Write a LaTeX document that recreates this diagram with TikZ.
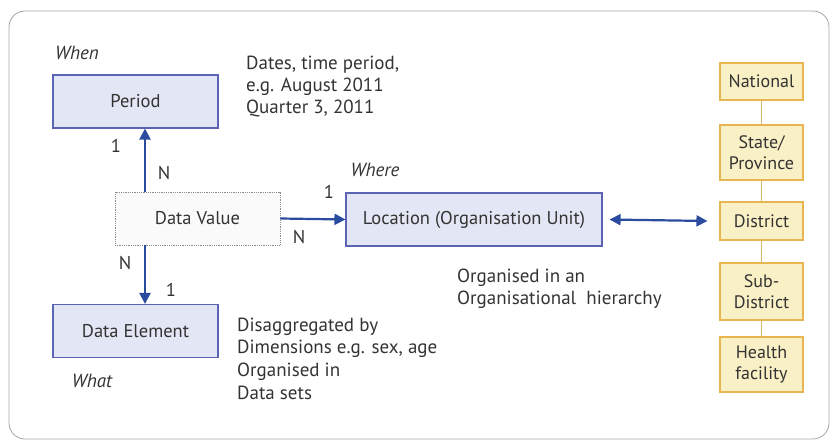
\documentclass[tikz,border=0pt]{standalone}
\usepackage{fontspec}
\setmainfont{PT Sans}
\usetikzlibrary{arrows.meta}
\definecolor{txt}{HTML}{333333}
\definecolor{bluebox}{HTML}{E3E6F4}
\definecolor{blueline}{HTML}{5A64B2}
\definecolor{arrowblue}{HTML}{2B4C9E}
\definecolor{yelbox}{HTML}{FAF0C6}
\definecolor{yelline}{HTML}{E8B650}
\definecolor{linktan}{HTML}{D9B86E}
\begin{document}
\begin{tikzpicture}[x=1pt,y=-1pt,
  every node/.style={text=txt,font=\fontsize{18.5}{21}\selectfont},
  entity/.style={draw=blueline,line width=1.1pt,fill=bluebox,minimum height=53pt,inner sep=0pt},
  valuebox/.style={draw=black!45,densely dotted,line width=0.8pt,fill=black!2,minimum width=165pt,minimum height=53pt,inner sep=0pt},
  level/.style={draw=yelline,line width=1.1pt,fill=yelbox,minimum width=83pt,inner sep=0pt,align=center,font=\fontsize{18}{21.5}\selectfont},
  rel/.style={draw=arrowblue,line width=2.2pt,-{Triangle[length=11pt,width=11pt]}},
  both/.style={draw=arrowblue,line width=2.2pt,{Triangle[length=11pt,width=11pt]}-{Triangle[length=11pt,width=11pt]}},
  card/.style={inner sep=0pt},
  note/.style={align=left,anchor=north west,inner sep=0pt,font=\fontsize{19}{22.7}\selectfont},
  tag/.style={inner sep=0pt,font=\itshape\fontsize{19}{21}\selectfont}]
\useasboundingbox (0,0) rectangle (833,445);
% outer frame
\draw[black!35,line width=0.8pt,rounded corners=16pt] (9,11) rectangle (829,439);

% entities
\node[entity,minimum width=165pt] (period) at (135.5,101.5) {Period};
\node[valuebox] (value) at (197.5,218.5) {Data Value};
\node[entity,minimum width=165pt] (element) at (135.5,331) {Data Element};
\node[entity,minimum width=256pt] (location) at (474,219.5) {Location (Organisation Unit)};

% labels
\node[tag] (when) at (77,53) {When};
\node[tag] (what) at (92,381) {What};
\node[tag] (where) at (375,170) {Where};
\node[note,font=\fontsize{19}{22}\selectfont] (dates) at (246,55.5) {Dates, time period,\\e.g. August 2011\\Quarter 3, 2011};
\node[note] (dims) at (237,317.5) {Disaggregated by\\Dimensions e.g. sex, age\\Organised in\\Data sets};
\node[note] (hier) at (457,268.5) {Organised in an\\Organisational\ \ hierarchy};

% relations with cardinalities
\draw[rel] (value.north -| 145,0) -- (period.south -| 145,0);
\node[card] (c1) at (116,146) {1};
\node[card] (c2) at (164,173) {N};
\draw[rel] (value.south -| 145,0) -- (element.north -| 145,0);
\node[card] (c3) at (125,263) {N};
\node[card] (c4) at (171,290) {1};
\draw[rel] (value.east) -- (location.west);
\node[card] (c5) at (329,192) {1};
\node[card] (c6) at (299,237) {N};

% organisational hierarchy
\node[level,minimum height=37pt] (national) at (761.5,81.5) {National};
\node[level,minimum height=55pt] (state) at (761.5,152.5) {State/\\Province};
\node[level,minimum height=38pt] (district) at (761.5,221) {District};
\node[level,minimum height=57pt] (subdistrict) at (761.5,291.5) {Sub-\\District};
\node[level,minimum height=55pt] (facility) at (761.5,364.5) {Health\\facility};
\begin{scope}[linktan,line width=1.1pt]
\draw (national) -- (state);
\draw (state) -- (district);
\draw (district) -- (subdistrict);
\draw (subdistrict) -- (facility);
\end{scope}
\draw[both] ([xshift=7pt]location.east) -- ([xshift=-12pt]district.west);
\end{tikzpicture}
\end{document}
